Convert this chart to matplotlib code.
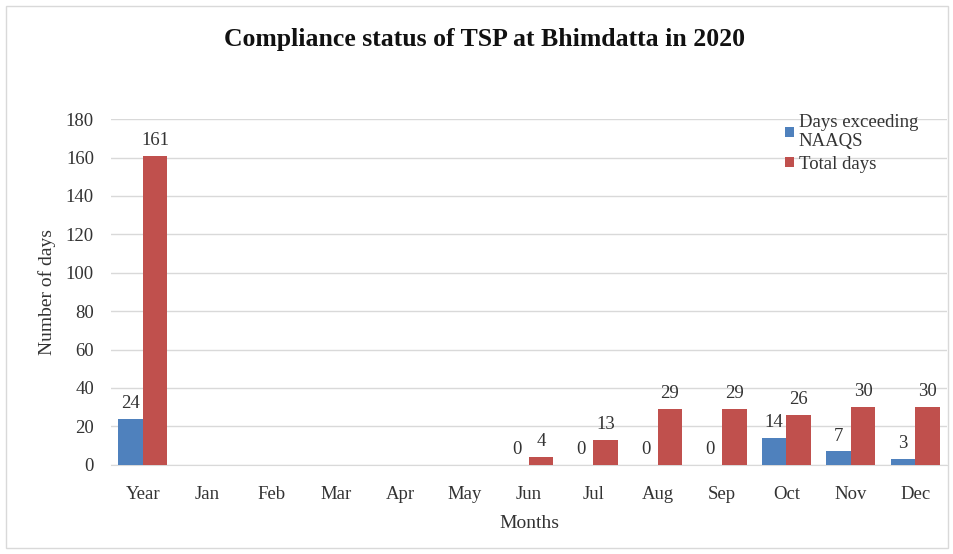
import numpy as np
import matplotlib.pyplot as plt
from matplotlib.patches import Rectangle

months = ['Year', 'Jan', 'Feb', 'Mar', 'Apr', 'May', 'Jun', 'Jul', 'Aug', 'Sep', 'Oct', 'Nov', 'Dec']
exceeding = [24, None, None, None, None, None, 0, 0, 0, 0, 14, 7, 3]
total = [161, None, None, None, None, None, 4, 13, 29, 29, 26, 30, 30]

blue = '#4F81BD'
red = '#C0504D'
plt.rcParams['font.family'] = ['Liberation Serif', 'DejaVu Serif']

fig = plt.figure(figsize=(9.54, 5.54), dpi=100)
ax = fig.add_axes([0.116, 0.161, 0.877, 0.624])

x = np.arange(len(months))
w = 0.38
ex = np.array([np.nan if v is None else v for v in exceeding], dtype=float)
tot = np.array([np.nan if v is None else v for v in total], dtype=float)

ax.bar(x - w / 2, ex, w, color=blue, label='Days exceeding\nNAAQS', zorder=3)
ax.bar(x + w / 2, tot, w, color=red, label='Total days', zorder=3)

for i in range(len(months)):
    if not np.isnan(ex[i]):
        ax.text(x[i] - w / 2, ex[i] + 3.5, '%d' % ex[i], ha='center', va='bottom', fontsize=13.5, color='#333333')
    if not np.isnan(tot[i]):
        ax.text(x[i] + w / 2, tot[i] + 3.5, '%d' % tot[i], ha='center', va='bottom', fontsize=13.5, color='#333333')

ax.set_xlim(-0.5, len(months) - 0.5)
ax.set_ylim(0, 180)
ax.set_yticks(range(0, 181, 20))
ax.set_xticks(x)
ax.set_xticklabels(months)
ax.tick_params(axis='y', length=0, labelsize=13.5, colors='#333333', pad=12)
ax.tick_params(axis='x', length=0, labelsize=13.5, colors='#333333', pad=15)
ax.grid(axis='y', color='#d9d9d9', linewidth=1, zorder=0)
for s in ['top', 'right', 'left']:
    ax.spines[s].set_visible(False)
ax.spines['bottom'].set_color('#d9d9d9')

ax.set_xlabel('Months', fontsize=14, color='#333333', labelpad=9)
ax.set_ylabel('Number of days', fontsize=14, color='#333333', labelpad=7)

fig.text(0.508, 0.928, 'Compliance status of TSP at Bhimdatta in 2020', ha='center', va='center',
         fontsize=18.5, fontweight='bold', color='#111111')

ax.legend(loc='upper right', bbox_to_anchor=(0.985, 1.065), frameon=False, fontsize=13.5,
          handlelength=0.45, handleheight=0.45, handletextpad=0.25, labelspacing=0.3,
          labelcolor='#333333')

fig.patches.append(Rectangle((0.006, 0.01), 0.988, 0.98, transform=fig.transFigure,
                             fill=False, edgecolor='#d9d9d9', linewidth=1))

fig.savefig('out.png', dpi=100)
